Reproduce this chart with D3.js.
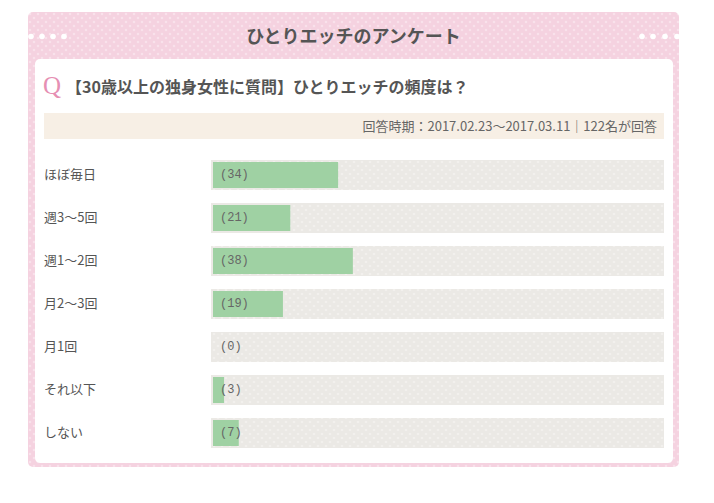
<!DOCTYPE html>
<html><head><meta charset="utf-8">
<script src="https://cdn.jsdelivr.net/npm/d3@7"></script>
<style>html,body{margin:0;padding:0;background:#fff;}svg{display:block;}</style>
</head><body>
<svg id="c" width="714" height="503"></svg>
<script>
const headerTitle = "ひとりエッチのアンケート";
const question = "【30歳以上の独身女性に質問】ひとりエッチの頻度は？";
const period = "回答時期：2017.02.23〜2017.03.11｜122名が回答";
const categories = ["ほぼ毎日","週3〜5回","週1〜2回","月2〜3回","月1回","それ以下","しない"];
const counts = [34,21,38,19,0,3,7];

const svg = d3.select("#c");
const defs = svg.append("defs");
const jp = "'Noto Sans CJK JP','Noto Sans',sans-serif";

// patterns
function dotPattern(id, bg, dot, s, r){
  const p = defs.append("pattern").attr("id",id).attr("patternUnits","userSpaceOnUse")
    .attr("width",s).attr("height",s);
  p.append("rect").attr("width",s).attr("height",s).attr("fill",bg);
  p.append("circle").attr("cx",s/4).attr("cy",s/4).attr("r",r).attr("fill",dot);
  p.append("circle").attr("cx",3*s/4).attr("cy",3*s/4).attr("r",r).attr("fill",dot);
}
dotPattern("pinkdots","#f5d2e0","#f9e1eb",8,1.3);
dotPattern("greydots","#ebe9e5","#f2f0ed",8,1.3);

// frame
svg.append("rect").attr("x",28).attr("y",12).attr("width",651).attr("height",455)
  .attr("rx",5).attr("fill","url(#pinkdots)");
svg.append("rect").attr("x",35).attr("y",59).attr("width",638).attr("height",404)
  .attr("rx",5).attr("fill","#fff");

// header dots
[31,42,53,64].forEach(x=>svg.append("circle").attr("cx",x).attr("cy",36.5).attr("r",2.8).attr("fill","#fff"));
[642,653,665,677].forEach(x=>svg.append("circle").attr("cx",x).attr("cy",36.5).attr("r",2.8).attr("fill","#fff"));

svg.append("text").attr("x",353.5).attr("y",43).attr("text-anchor","middle")
  .attr("font-family",jp).attr("font-weight","bold").attr("font-size",18).attr("fill","#555")
  .text(headerTitle);

// question
svg.append("text").attr("x",43).attr("y",94).attr("font-family","'Liberation Serif','DejaVu Serif',serif")
  .attr("font-size",25).attr("fill","#e68fb3").text("Q");
svg.append("text").attr("x",66).attr("y",93).attr("font-family",jp).attr("font-weight","bold")
  .attr("font-size",16).attr("fill","#555").text(question);

// info band
svg.append("rect").attr("x",44).attr("y",113).attr("width",620).attr("height",26).attr("fill","#f7efe5");
svg.append("text").attr("x",657).attr("y",130.5).attr("text-anchor","end").attr("font-family",jp)
  .attr("font-size",13).attr("fill","#666").text(period);

// scales
const total = d3.sum(counts);
const y = d3.scaleBand().domain(categories).range([160,448]).paddingInner(13/43).paddingOuter(0);
const x = d3.scaleLinear().domain([0,total]).range([213,662]);

const rows = svg.append("g").selectAll("g").data(categories).join("g");
rows.append("rect").attr("x",211).attr("y",d=>y(d)).attr("width",453).attr("height",y.bandwidth())
  .attr("fill","url(#greydots)");
rows.append("rect").attr("x",x(0)).attr("y",d=>y(d)+2)
  .attr("width",(d,i)=>x(counts[i])-x(0)).attr("height",y.bandwidth()-4).attr("fill","#9fd1a3");
rows.append("text").attr("x",44).attr("y",d=>y(d)+y.bandwidth()/2-1).attr("dy","0.35em")
  .attr("font-family",jp).attr("font-size",13).attr("fill","#555").text(d=>d);
rows.append("text").attr("x",220).attr("y",d=>y(d)+y.bandwidth()/2-1).attr("dy","0.35em")
  .attr("font-family","'Liberation Mono',monospace").attr("font-size",12)
  .attr("fill","#666").text((d,i)=>"("+counts[i]+")");
</script>
</body></html>
